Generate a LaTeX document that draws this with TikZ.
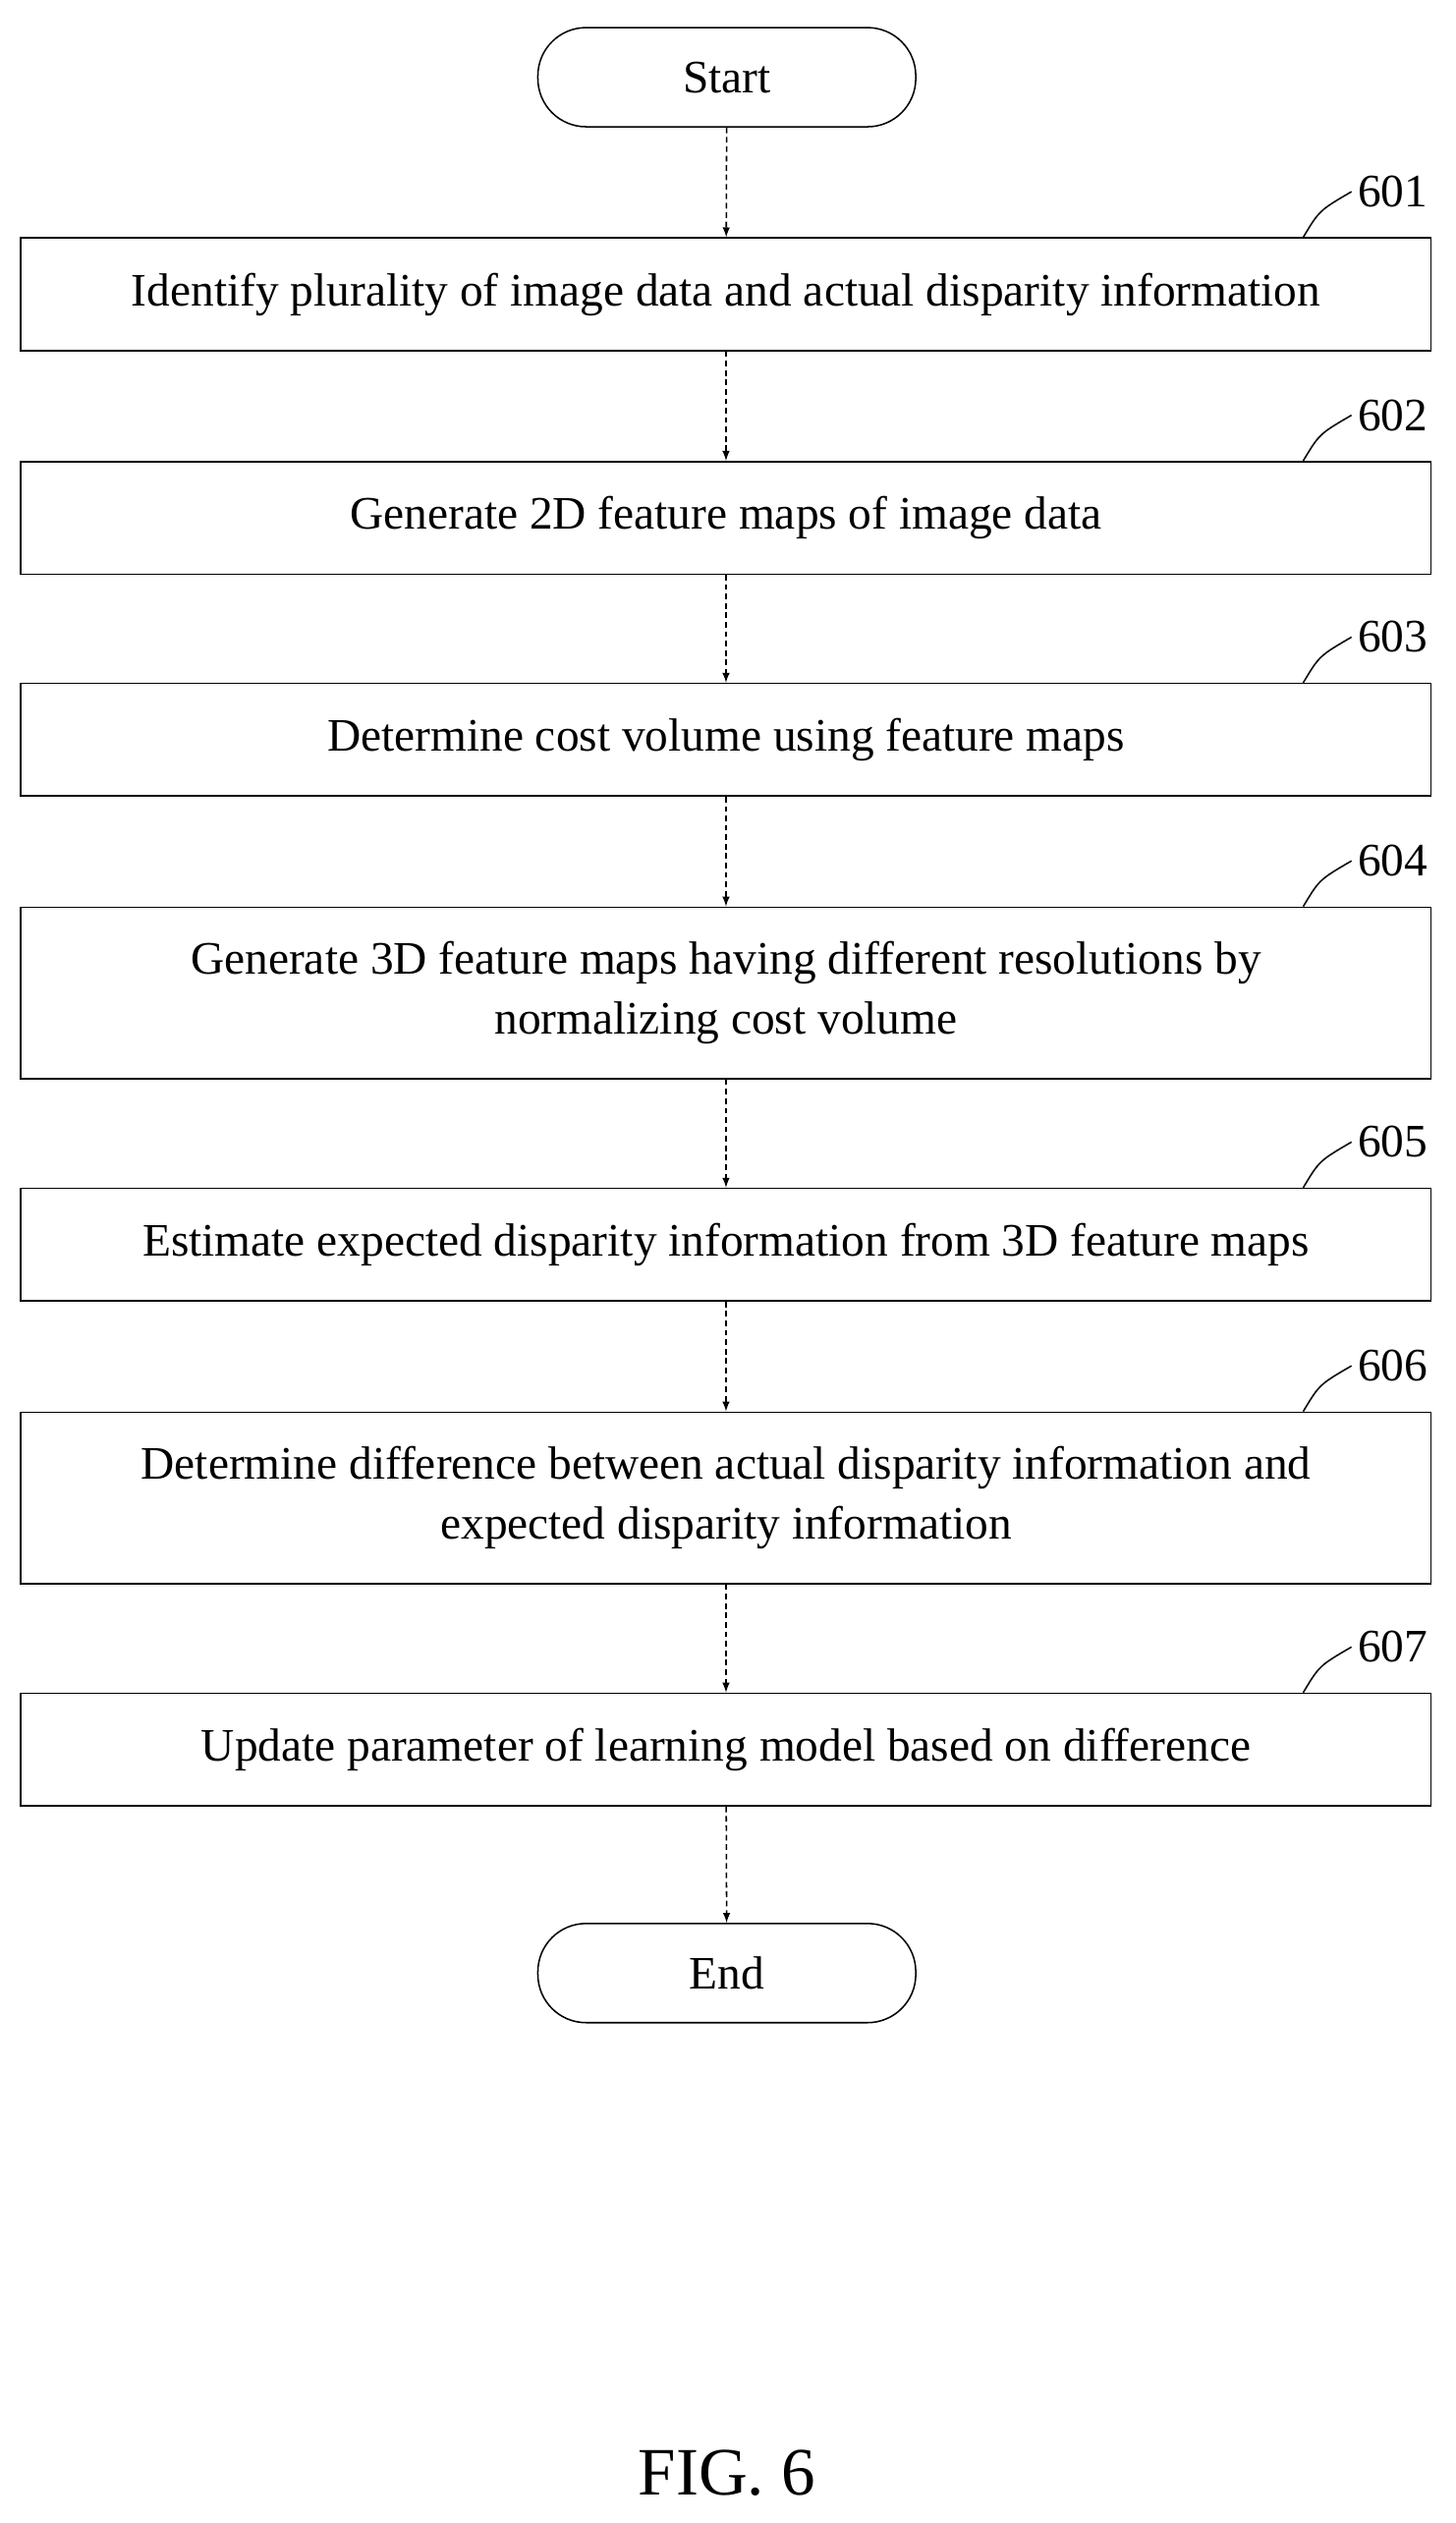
\documentclass[tikz,border=0pt]{standalone}
\usepackage{fontspec}
\setmainfont{Liberation Serif}
\usetikzlibrary{positioning}
\tikzset{
	stepbox/.style={draw,thick,minimum width=26.31cm,minimum height=2.1cm,align=center,inner sep=0pt},
	term/.style={draw,thick,rounded corners=0.9cm,minimum width=7.05cm,minimum height=1.85cm},
	flow/.style={thick,densely dashed,-latex},
	lead/.style={thick},
}
\begin{document}
\begin{tikzpicture}[x=0.03cm,y=-0.03cm,font=\fontsize{24.7}{32}\selectfont]
	\useasboundingbox (0,0) rectangle (905,1569);
	%terminals
	\node[term] (start) at (452,48) {Start};
	\node[term] (end) at (452,1227) {End};

	%steps
	\node[stepbox] (s601) at (451.5,183) {Identify plurality of image data and actual disparity information};
	\node[stepbox] (s602) at (451.5,322) {Generate 2D feature maps of image data};
	\node[stepbox] (s603) at (451.5,460) {Determine cost volume using feature maps};
	\node[stepbox,minimum height=3.2cm] (s604) at (451.5,617.5) {Generate 3D feature maps having different resolutions by\\normalizing cost volume};
	\node[stepbox] (s605) at (451.5,774) {Estimate expected disparity information from 3D feature maps};
	\node[stepbox,minimum height=3.2cm] (s606) at (451.5,931.5) {Determine difference between actual disparity information and\\expected disparity information};
	\node[stepbox] (s607) at (451.5,1088) {Update parameter of learning model based on difference};

	%arrows
	\draw[flow] (start) -- (s601);
	\draw[flow] (s601) -- (s602);
	\draw[flow] (s602) -- (s603);
	\draw[flow] (s603) -- (s604);
	\draw[flow] (s604) -- (s605);
	\draw[flow] (s605) -- (s606);
	\draw[flow] (s606) -- (s607);
	\draw[flow] (s607) -- (end);

	%reference numbers
	\foreach \s in {601,602,603,604,605,606,607}{
		\coordinate (f\s) at ([xshift=-2.4cm]s\s.north east);
		\coordinate (t\s) at ([xshift=-1.5cm,yshift=0.85cm]s\s.north east);
		\draw[lead] (f\s) .. controls ([xshift=0.3cm,yshift=0.5cm]f\s) .. (t\s) node[right,inner sep=3pt] (l\s) {\s};
	}

	%caption
	\node (fig) at (452,1538) {\fontsize{36}{42}\selectfont FIG. 6};
\end{tikzpicture}
\end{document}
